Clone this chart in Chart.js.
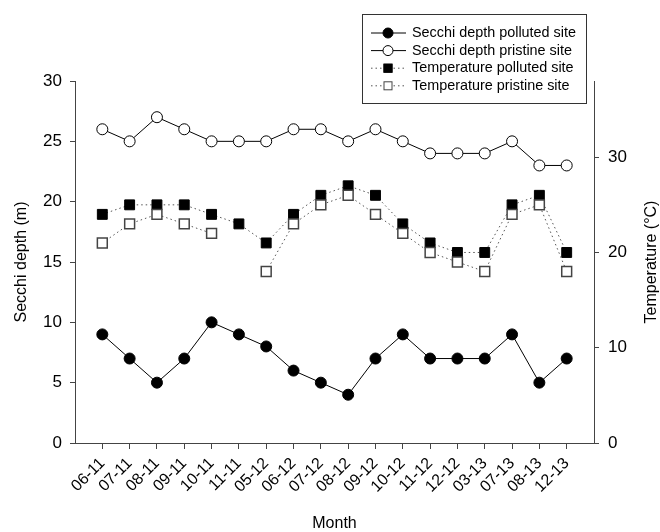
<!DOCTYPE html>
<html>
<head>
<meta charset="utf-8">
<script src="https://cdn.jsdelivr.net/npm/chart.js@4"></script>
<style>
html,body{margin:0;padding:0;background:#fff;}
#wrap{width:660px;height:532px;}
</style>
</head>
<body>
<div id="wrap"><canvas id="c" width="660" height="532"></canvas></div>
<script>
const months = ['06-11','07-11','08-11','09-11','10-11','11-11','05-12','06-12','07-12','08-12','09-12','10-12','11-12','12-12','03-13','07-13','08-13','12-13'];
const secchiPolluted = [9,7,5,7,10,9,8,6,5,4,7,9,7,7,7,9,5,7];
const secchiPristine = [26,25,27,26,25,25,25,26,26,25,26,25,24,24,24,25,23,23];
const tempPolluted = [24,25,25,25,24,23,21,24,26,27,26,23,21,20,20,25,26,20];
const tempPristine = [21,23,24,23,22,null,18,23,25,26,24,22,20,19,18,24,25,18];
const leftTicks = [0,5,10,15,20,25,30];
const rightTicks = [0,10,20,30];

const FONT = "'Liberation Sans', Arial, sans-serif";
const pts = arr => arr.map((v,i)=>({x:i, y:v}));

const legendItems = [
  {label:'Secchi depth polluted site', dash:[], lineColor:'#000', style:'circle', fill:'#000', stroke:'#000'},
  {label:'Secchi depth pristine site', dash:[], lineColor:'#000', style:'circle', fill:'#fff', stroke:'#000'},
  {label:'Temperature polluted site', dash:[1.5,3], lineColor:'#555', style:'rect', fill:'#000', stroke:'#000'},
  {label:'Temperature pristine site', dash:[1.5,3], lineColor:'#555', style:'rect', fill:'#fff', stroke:'#444'}
];

const customPlugin = {
  id:'custom',
  afterDraw(chart){
    const ctx = chart.ctx;
    const area = chart.chartArea;
    ctx.save();
    ctx.font = '16px ' + FONT;
    ctx.fillStyle = '#000';
    ctx.textAlign = 'center';
    ctx.textBaseline = 'middle';
    ctx.translate(652, (area.top + area.bottom)/2);
    ctx.rotate(-Math.PI/2);
    ctx.fillText('Temperature (°C)', 0, 0);
    ctx.restore();

    ctx.save();
    const bx=362, by=14, bw=224, bh=89;
    ctx.fillStyle='#fff';
    ctx.fillRect(bx,by,bw,bh);
    ctx.strokeStyle='#333';
    ctx.lineWidth=1;
    ctx.strokeRect(bx+0.5,by+0.5,bw,bh);
    legendItems.forEach((it,i)=>{
      const y = 33 + i*17.6;
      ctx.save();
      ctx.strokeStyle = it.lineColor;
      ctx.lineWidth = 1;
      ctx.setLineDash(it.dash);
      ctx.beginPath();
      ctx.moveTo(371,y); ctx.lineTo(406,y);
      ctx.stroke();
      ctx.restore();
      ctx.save();
      ctx.fillStyle=it.fill; ctx.strokeStyle=it.stroke; ctx.lineWidth=1;
      if(it.style==='circle'){
        ctx.beginPath(); ctx.arc(388,y,5,0,Math.PI*2); ctx.fill(); ctx.stroke();
      } else {
        ctx.fillRect(383.5,y-4.5,9,9); ctx.strokeRect(384,y-4,8,8);
      }
      ctx.restore();
      ctx.save();
      ctx.font = '14.4px ' + FONT;
      ctx.fillStyle='#000';
      ctx.textAlign='left';
      ctx.textBaseline='middle';
      ctx.fillText(it.label, 412, y);
      ctx.restore();
    });
    ctx.restore();
  }
};

new Chart(document.getElementById('c'), {
  type:'line',
  data:{
    datasets:[
      {label:'Temperature pristine site', data:pts(tempPristine), yAxisID:'y2', borderColor:'#555', borderWidth:1, borderDash:[1.5,3], pointStyle:'rect', pointRadius:7, pointBackgroundColor:'#fff', pointBorderColor:'#444', pointBorderWidth:1.5, spanGaps:false, tension:0},
      {label:'Temperature polluted site', data:pts(tempPolluted), yAxisID:'y2', borderColor:'#555', borderWidth:1, borderDash:[1.5,3], pointStyle:'rect', pointRadius:7, pointBackgroundColor:'#000', pointBorderColor:'#000', pointBorderWidth:1, tension:0},
      {label:'Secchi depth pristine site', data:pts(secchiPristine), yAxisID:'y', borderColor:'#000', borderWidth:1, pointStyle:'circle', pointRadius:5.5, pointBackgroundColor:'#fff', pointBorderColor:'#000', pointBorderWidth:1, tension:0},
      {label:'Secchi depth polluted site', data:pts(secchiPolluted), yAxisID:'y', borderColor:'#000', borderWidth:1, pointStyle:'circle', pointRadius:5.5, pointBackgroundColor:'#000', pointBorderColor:'#000', pointBorderWidth:1, tension:0}
    ]
  },
  options:{
    responsive:false,
    animation:false,
    events:[],
    layout:{padding:{top:81,left:0,right:0,bottom:0}},
    plugins:{legend:{display:false}, tooltip:{enabled:false}},
    scales:{
      x:{
        type:'linear', min:-1, max:18,
        afterBuildTicks(s){ s.ticks = months.map((m,i)=>({value:i})); },
        afterFit(s){ s.height = 89; },
        grid:{drawOnChartArea:false, drawTicks:true, tickLength:6, color:'#444'},
        border:{display:true, color:'#444', width:1},
        ticks:{autoSkip:false, minRotation:45, maxRotation:45, padding:5, color:'#000', font:{family:FONT, size:16},
          callback:(v)=>months[v] ?? ''},
        title:{display:true, text:'Month', color:'#000', font:{family:FONT, size:16, lineHeight:1}, padding:{top:0,bottom:0}}
      },
      y:{
        position:'left', min:0, max:30,
        afterBuildTicks(s){ s.ticks = leftTicks.map(v=>({value:v})); },
        afterFit(s){ s.width = 75; },
        grid:{drawOnChartArea:false, drawTicks:true, tickLength:5, color:'#444'},
        border:{display:true, color:'#444', width:1},
        ticks:{padding:8, color:'#000', font:{family:FONT, size:17}},
        title:{display:true, text:'Secchi depth (m)', color:'#000', font:{family:FONT, size:16, lineHeight:1}, padding:{top:14,bottom:0}}
      },
      y2:{
        position:'right', min:0, max:38,
        afterBuildTicks(s){ s.ticks = rightTicks.map(v=>({value:v})); },
        afterFit(s){ s.width = 66; },
        grid:{drawOnChartArea:false, drawTicks:true, tickLength:5, color:'#444'},
        border:{display:true, color:'#444', width:1},
        ticks:{padding:9, color:'#000', font:{family:FONT, size:17}}
      }
    }
  },
  plugins:[customPlugin]
});
</script>
</body>
</html>
